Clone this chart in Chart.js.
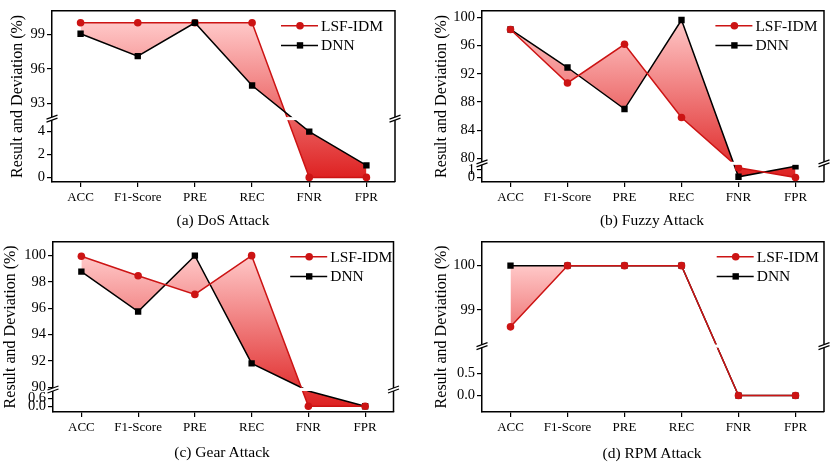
<!DOCTYPE html>
<html>
<head>
<meta charset="utf-8">
<script src="https://cdn.jsdelivr.net/npm/chart.js@4.4.0/dist/chart.umd.min.js"></script>
<style>
  body { margin: 0; background: #fff; width: 830px; height: 462px; position: relative; overflow: hidden;
         font-family: "Liberation Serif", "Times New Roman", serif; }
  .panel { position: absolute; width: 415px; height: 231px; }
  .caption { position: absolute; font-size: 15.5px; line-height: 18px; color: #000; white-space: nowrap;
             transform: translateX(-50%); }
</style>
</head>
<body>
<div class="panel" style="left:0;top:0"><canvas id="dos" width="415" height="231"></canvas></div>
<div class="panel" style="left:415px;top:0"><canvas id="fuzzy" width="415" height="231"></canvas></div>
<div class="panel" style="left:0;top:231px"><canvas id="gear" width="415" height="231"></canvas></div>
<div class="panel" style="left:415px;top:231px"><canvas id="rpm" width="415" height="231"></canvas></div>
<div class="caption" style="left:223px;top:211px">(a) DoS Attack</div>
<div class="caption" style="left:652px;top:211px">(b) Fuzzy Attack</div>
<div class="caption" style="left:222px;top:443px">(c) Gear Attack</div>
<div class="caption" style="left:652px;top:444px">(d) RPM Attack</div>
<script>
const metrics = ["ACC", "F1-Score", "PRE", "REC", "FNR", "FPR"];
const seriesNames = ["LSF-IDM", "DNN"];

const dosLsf = [100, 100, 100, 100, 0, 0];
const dosDnn = [99.05, 97.1, 100, 94.55, 4.0, 1.05];
const fuzzyLsf = [98.3, 90.7, 96.2, 85.8, 1.3, 0];
const fuzzyDnn = [98.3, 92.9, 87.0, 99.65, 0.1, 1.5];
const gearLsf = [99.95, 98.47, 97.05, 100, 0, 0];
const gearDnn = [98.78, 95.75, 100, 91.8, 1.3, 0];
const rpmLsf = [98.62, 100, 100, 100, 0, 0];
const rpmDnn = [100, 100, 100, 100, 0, 0];

const dosTicks = [0, 2, 4, 93, 96, 99];
const dosTickLabels = ["0", "2", "4", "93", "96", "99"];
const fuzzyTicks = [0, 1, 80, 84, 88, 92, 96, 100];
const fuzzyTickLabels = ["0", "1", "80", "84", "88", "92", "96", "100"];
const gearTicks = [0, 0.6, 90, 92, 94, 96, 98, 100];
const gearTickLabels = ["0.0", "0.6", "90", "92", "94", "96", "98", "100"];
const rpmTicks = [0, 0.5, 99, 100];
const rpmTickLabels = ["0.0", "0.5", "99", "100"];

const SERIF = '"Liberation Serif", "Times New Roman", serif';
const RED = "#cc1414";
Chart.defaults.font.family = SERIF;
Chart.defaults.color = "#000";

// linear axis made of two value ranges with a small gap between them
class BrokenScale extends Chart.LinearScale {
  static id = "broken";
  static defaults = Chart.LinearScale.defaults;

  determineDataLimits() {
    const s = this.options.segments;
    this.min = s[0][0];
    this.max = s[1][1];
  }

  buildTicks() {
    return this.options.tickValues.map((value) => ({ value }));
  }

  breakPixel() {
    return this.bottom - (this.bottom - this.top) * this.options.split;
  }

  getPixelForValue(value) {
    if (value === null || value === undefined) return NaN;
    const [lo, hi] = this.options.segments;
    const b = this.breakPixel();
    const g = this.options.gap / 2;
    if (value <= lo[1]) return this.bottom - (value - lo[0]) / (lo[1] - lo[0]) * (this.bottom - b - g);
    if (value >= hi[0]) return b - g - (value - hi[0]) / (hi[1] - hi[0]) * (b - g - this.top);
    return b + g - (value - lo[1]) / (hi[0] - lo[1]) * 2 * g;
  }

  getValueForPixel(pixel) {
    const [lo, hi] = this.options.segments;
    const b = this.breakPixel();
    const g = this.options.gap / 2;
    if (pixel >= b + g) return lo[0] + (this.bottom - pixel) / (this.bottom - b - g) * (lo[1] - lo[0]);
    if (pixel <= b - g) return hi[0] + (b - g - pixel) / (b - g - this.top) * (hi[1] - hi[0]);
    return lo[1] + (b + g - pixel) / (2 * g) * (hi[0] - lo[1]);
  }
}
Chart.register(BrokenScale);

const framePlugin = {
  id: "frame",
  afterDatasetsDraw(chart, args, opts) {
    const { ctx, chartArea: a } = chart;
    const y = chart.scales.y;
    const b = y.breakPixel();
    const g = y.options.gap / 2;
    ctx.save();
    ctx.strokeStyle = "#000";
    ctx.lineWidth = 1.5;
    ctx.beginPath();
    ctx.moveTo(a.left, a.top);
    ctx.lineTo(a.right, a.top);
    ctx.lineTo(a.right, a.bottom);
    ctx.stroke();

    ctx.fillStyle = "#fff";
    ctx.fillRect(a.left - 2, b - g, a.right - a.left + 4, 2 * g);

    ctx.lineWidth = 1.2;
    [a.left, a.right].forEach((x0) => {
      [b - g, b + g].forEach((yy) => {
        ctx.beginPath();
        ctx.moveTo(x0 - 5.5, yy + 2);
        ctx.lineTo(x0 + 5.5, yy - 2);
        ctx.stroke();
      });
    });

    // legend
    ctx.font = "15.5px " + SERIF;
    ctx.textBaseline = "middle";
    ctx.textAlign = "left";
    chart.data.datasets.forEach((d, i) => {
      const ty = a.top + 15 + i * 19.7;
      const tx = a.right - opts.legendRight;
      ctx.strokeStyle = d.borderColor;
      ctx.fillStyle = d.borderColor;
      ctx.lineWidth = 1.5;
      ctx.beginPath();
      ctx.moveTo(tx - 40, ty);
      ctx.lineTo(tx - 3, ty);
      ctx.stroke();
      const mx = tx - 21;
      if (d.pointStyle === "circle") {
        ctx.beginPath();
        ctx.arc(mx, ty, 3.8, 0, Math.PI * 2);
        ctx.fill();
      } else {
        ctx.fillRect(mx - 3.2, ty - 3.2, 6.4, 6.4);
      }
      ctx.fillStyle = "#000";
      ctx.fillText(d.label, tx, ty + 1);
    });
    ctx.restore();
  }
};

function makeChart(id, cfg) {
  const segs = cfg.segments;
  const inGap = (v) => v > segs[0][1] && v < segs[1][0];
  const all = cfg.lsf.concat(cfg.dnn);

  const fillGradient = (ctx) => {
    const chart = ctx.chart;
    if (!chart.chartArea) return "rgba(0,0,0,0)";
    const y = chart.scales.y;
    const top = y.getPixelForValue(Math.max(...all));
    const bot = y.getPixelForValue(Math.min(...all));
    const grad = chart.ctx.createLinearGradient(0, top, 0, bot);
    grad.addColorStop(0, "rgb(255,200,200)");
    grad.addColorStop(1, "rgb(222,34,34)");
    return grad;
  };

  return new Chart(document.getElementById(id), {
    type: "line",
    data: {
      labels: metrics,
      datasets: [
        {
          label: seriesNames[0],
          data: cfg.lsf,
          borderColor: RED,
          borderWidth: 1.5,
          backgroundColor: fillGradient,
          fill: 1,
          pointStyle: "circle",
          pointRadius: (c) => (inGap(c.raw) ? 0 : 3.8),
          pointBackgroundColor: RED,
          pointBorderWidth: 0,
          order: cfg.dnnOnTop ? 1 : 0,
          tension: 0
        },
        {
          label: seriesNames[1],
          data: cfg.dnn,
          borderColor: "#000",
          borderWidth: 1.5,
          fill: false,
          pointStyle: "rect",
          pointRadius: (c) => (inGap(c.raw) ? 0 : 4.5),
          pointBackgroundColor: "#000",
          pointBorderWidth: 0,
          order: cfg.dnnOnTop ? 0 : 1,
          tension: 0
        }
      ]
    },
    options: {
      responsive: false,
      animation: false,
      events: [],
      layout: { padding: { left: 0, top: 1, right: cfg.rightPad, bottom: 0 } },
      plugins: {
        legend: { display: false },
        tooltip: { enabled: false },
        filler: { drawTime: "beforeDatasetsDraw" },
        frame: { legendRight: cfg.legendRight }
      },
      scales: {
        x: {
          type: "category",
          offset: true,
          grid: { display: true, offset: false, drawOnChartArea: false, drawTicks: true, tickLength: 5, color: "#000", lineWidth: 1.2 },
          border: { display: true, color: "#000", width: 1.5 },
          ticks: { color: "#000", font: { size: 13 }, padding: 3, maxRotation: 0, autoSkip: false },
          afterFit: (s) => { s.height = cfg.xHeight; }
        },
        y: {
          type: "broken",
          segments: segs,
          split: cfg.split,
          gap: 3,
          tickValues: cfg.ticks,
          grid: { display: true, drawOnChartArea: false, drawTicks: true, tickLength: 5, color: "#000", lineWidth: 1.2 },
          border: { display: true, color: "#000", width: 1.5 },
          ticks: { color: "#000", font: { size: 14.5 }, padding: 2, autoSkip: false,
                   callback: (v, i) => cfg.tickLabels[i] },
          title: { display: true, text: "Result and Deviation (%)", color: "#000",
                   font: { size: 16 }, padding: { top: cfg.titlePad, bottom: 0 } },
          afterFit: (s) => { s.width = cfg.yWidth; }
        }
      }
    },
    plugins: [framePlugin]
  });
}

makeChart("dos", {
  lsf: dosLsf, dnn: dosDnn, ticks: dosTicks, tickLabels: dosTickLabels,
  segments: [[-0.4, 5.0], [91.8, 101.05]], split: 0.37,
  yWidth: 52, rightPad: 20, xHeight: 49, titlePad: 8.4, legendRight: 74, dnnOnTop: true
});
makeChart("fuzzy", {
  lsf: fuzzyLsf, dnn: fuzzyDnn, ticks: fuzzyTicks, tickLabels: fuzzyTickLabels,
  segments: [[-0.6, 1.7], [79.5, 100.97]], split: 0.109,
  yWidth: 67, rightPad: 6, xHeight: 49, titlePad: 17.4, legendRight: 68.6, dnnOnTop: false
});
makeChart("gear", {
  lsf: gearLsf, dnn: gearDnn, ticks: gearTicks, tickLabels: gearTickLabels,
  segments: [[-0.45, 1.19], [89.93, 101.06]], split: 0.132,
  yWidth: 53, rightPad: 21.5, xHeight: 50, titlePad: 1.2, legendRight: 63.3, dnnOnTop: false
});
makeChart("rpm", {
  lsf: rpmLsf, dnn: rpmDnn, ticks: rpmTicks, tickLabels: rpmTickLabels,
  segments: [[-0.37, 1.08], [98.22, 100.54]], split: 0.387,
  yWidth: 67, rightPad: 6, xHeight: 50, titlePad: 17.4, legendRight: 67.3, dnnOnTop: false
});
</script>
</body>
</html>
